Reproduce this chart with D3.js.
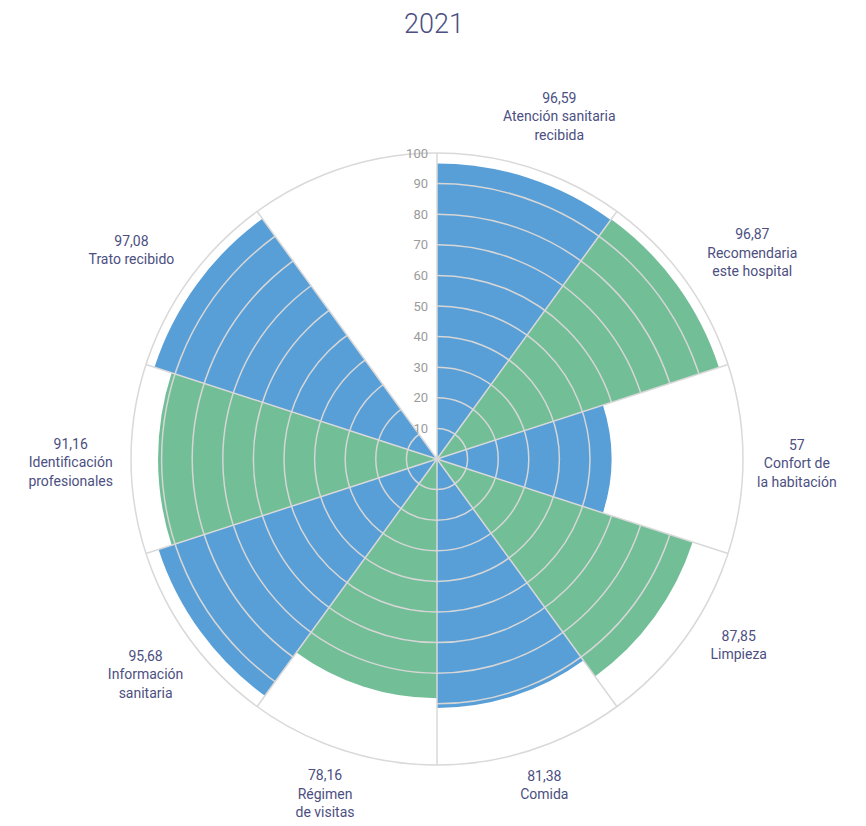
<!DOCTYPE html>
<html>
<head>
<meta charset="utf-8">
<script src="https://cdn.jsdelivr.net/npm/d3@7"></script>
<style>
  body { margin: 0; background: #fff; }
  text { font-family: Roboto, "Liberation Sans", sans-serif; }
</style>
</head>
<body>
<svg id="myChart" width="866" height="826"></svg>
<script>
// Data
const categories = [
	'Atención sanitaria\nrecibida',
	'Recomendaria\neste hospital',
	'Confort de\nla habitación',
	'Limpieza',
	'Comida',
	'Régimen\nde visitas',
	'Información\nsanitaria',
	'Identificación\nprofesionales',
	'Trato recibido'
];
const values = [96.59, 96.87, 57, 87.85, 81.38, 78.16, 95.68, 91.16, 97.08];
const tickValues = [10, 20, 30, 40, 50, 60, 70, 80, 90, 100];
const title = '2021';

// Layout
const cx = 437, cy = 459;
const outer = 306;
const palette = ['#589fd8', '#71be97'];
const gridColor = '#d9d9d9';
const textColor = '#4c4f7f';
const lineH = 18.5;
// small hand nudges for the outside labels [dx, dy]
const labelNudge = [[6, -12], [20, -2], [0, 4], [20, -13], [1, 4], [-4, 4], [-2, 11], [-4, 3], [-12, -10]];

const svg = d3.select('#myChart');
const g = svg.append('g').attr('transform', `translate(${cx},${cy})`);

// 10 angular slots, the last one stays empty
const slots = categories.concat(['']);
const xScale = d3.scaleBand().domain(d3.range(slots.length)).range([0, 2 * Math.PI]).padding(0);
const rScale = d3.scaleLinear().domain([0, 100]).range([0, outer]);

const data = categories.map((c, i) => ({ name: c, value: values[i], i: i }));

const arc = d3.arc()
	.innerRadius(0)
	.outerRadius(d => rScale(d.value))
	.startAngle(d => xScale(d.i))
	.endAngle(d => xScale(d.i) + xScale.bandwidth());

// bars
g.append('g').attr('class', 'bars')
	.selectAll('path')
	.data(data)
	.enter()
	.append('path')
	.attr('d', arc)
	.attr('fill', d => palette[d.i % 2]);

// clip so the rings only show on the bars
svg.append('defs')
	.append('clipPath').attr('id', 'barClip')
	.selectAll('path')
	.data(data)
	.enter()
	.append('path')
	.attr('d', arc);

g.append('g')
	.attr('clip-path', 'url(#barClip)')
	.selectAll('circle')
	.data(tickValues)
	.enter()
	.append('circle')
	.attr('r', d => rScale(d))
	.attr('fill', 'none')
	.attr('stroke', '#d6d6d6')
	.attr('stroke-width', 1.5);

// spokes
const angleAt = i => xScale(i);
g.append('g')
	.selectAll('line')
	.data(d3.range(slots.length))
	.enter()
	.append('line')
	.attr('x1', 0).attr('y1', 0)
	.attr('x2', d => Math.sin(angleAt(d)) * rScale(100))
	.attr('y2', d => -Math.cos(angleAt(d)) * rScale(100))
	.attr('stroke', gridColor)
	.attr('stroke-width', 1.5);

// outer ring
g.append('circle')
	.attr('r', rScale(100))
	.attr('fill', 'none')
	.attr('stroke', gridColor)
	.attr('stroke-width', 1.5);

// radial tick labels
g.append('g')
	.selectAll('text')
	.data(tickValues)
	.enter()
	.append('text')
	.attr('x', -9)
	.attr('y', d => -rScale(d))
	.attr('dy', '0.35em')
	.attr('text-anchor', 'end')
	.attr('fill', '#9b9b9b')
	.style('font-size', '13px')
	.text(d => d);

// outside labels: value + name
const fmt = v => String(v).replace('.', ',');
const labels = g.append('g').attr('class', 'labels');
data.forEach(d => {
	const lines = [fmt(d.value)].concat(d.name.split('\n'));
	const a = xScale(d.i) + xScale.bandwidth() / 2;
	const t = labels.append('text')
		.attr('text-anchor', 'middle')
		.attr('fill', textColor)
		.style('font-size', '14px');
	const spans = t.selectAll('tspan')
		.data(lines)
		.enter()
		.append('tspan')
		.attr('x', 0)
		.text(l => l);
	const w = d3.max(spans.nodes(), n => n.getComputedTextLength());
	const h = lines.length * lineH;
	const px = Math.sin(a) * (outer + 14), py = -Math.cos(a) * (outer + 14);
	const lx = px + Math.sin(a) * w / 2 + labelNudge[d.i][0];
	const ly = py - Math.cos(a) * h / 2 + labelNudge[d.i][1];
	spans
		.attr('x', lx)
		.attr('y', (l, j) => ly + (j - (lines.length - 1) / 2) * lineH + 5);
});

// title
svg.append('text')
	.attr('x', 434)
	.attr('y', 33)
	.attr('text-anchor', 'middle')
	.attr('fill', textColor)
	.style('font-size', '27px')
	.style('font-weight', 300)
	.text(title);
</script>
</body>
</html>
